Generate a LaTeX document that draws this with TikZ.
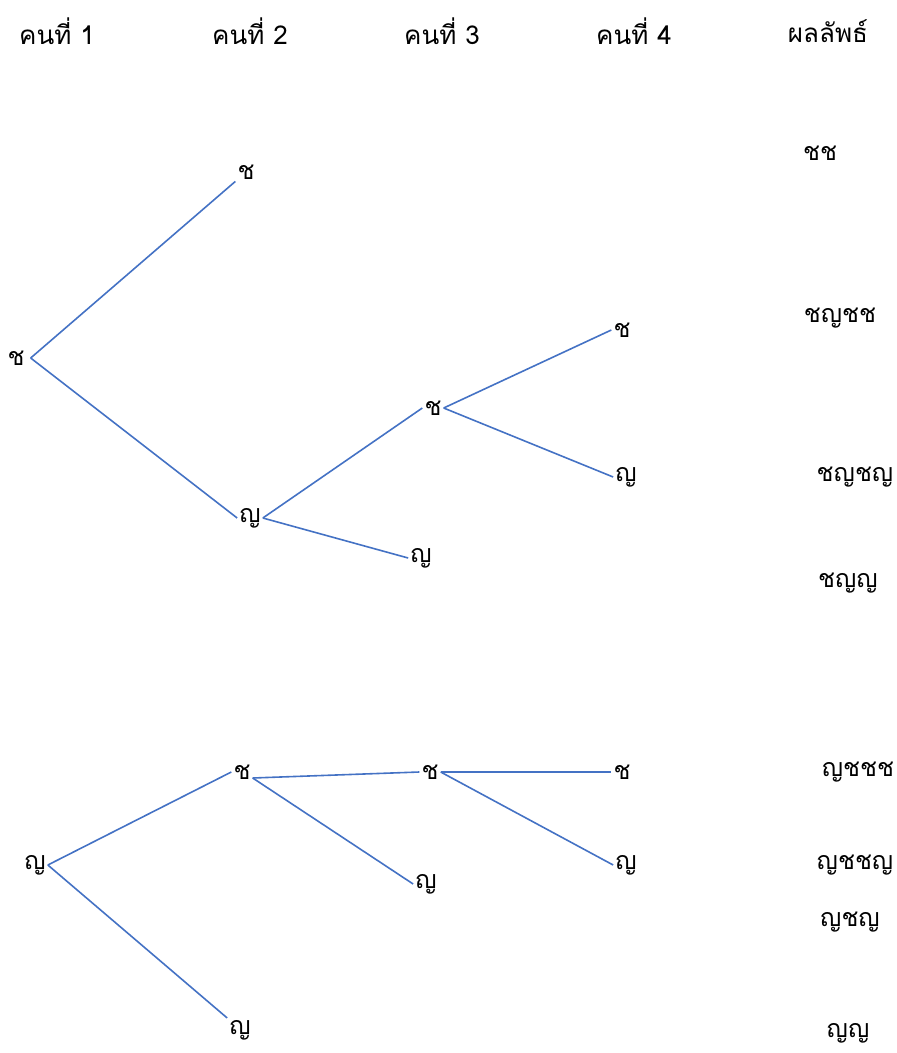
\documentclass[tikz,border=0pt]{standalone}
\usepackage{fontspec}
\newfontfamily\thaifont[Script=Thai]{Loma}
\begin{document}
\begin{tikzpicture}[x=1pt,y=-1pt,
  lbl/.style={font=\thaifont\fontsize{25}{30}\selectfont, inner sep=2pt, anchor=center},
  hdr/.style={font=\thaifont\fontsize{26}{30}\selectfont, inner sep=0pt, anchor=center},
  res/.style={font=\thaifont\fontsize{25}{30}\selectfont, inner sep=0pt, anchor=center},
  edge/.style={draw={rgb,255:red,68;green,114;blue,196}, line width=1.6pt}]
\useasboundingbox (0,0) rectangle (897,1053);
% headers
\node[hdr] (h1) at (57,31) {คนที่ 1};
\node[hdr] (h2) at (250,31) {คนที่ 2};
\node[hdr] (h3) at (442,31) {คนที่ 3};
\node[hdr] (h4) at (634,31) {คนที่ 4};
\node[hdr] (h5) at (828,31) {ผลลัพธ์};
% top tree
\node[lbl] (a) at (16,358) {ช};
\node[lbl] (ab) at (246,172) {ช};
\node[lbl] (ag) at (250,518) {ญ};
\node[lbl] (agb) at (433,408) {ช};
\node[lbl] (agg) at (421,558) {ญ};
\node[lbl] (agbb) at (622,330) {ช};
\node[lbl] (agbg) at (626,477) {ญ};
% bottom tree
\node[lbl] (g) at (35,865) {ญ};
\node[lbl] (gb) at (242,772) {ช};
\node[lbl] (gg) at (240,1030) {ญ};
\node[lbl] (gbb) at (430,772) {ช};
\node[lbl] (gbg) at (426,884) {ญ};
\node[lbl] (gbbb) at (622,772) {ช};
\node[lbl] (gbbg) at (626,865) {ญ};
% results
\node[res] (r1) at (820,153) {ชช};
\node[res] (r2) at (840,318) {ชญชช};
\node[res] (r3) at (855,477) {ชญชญ};
\node[res] (r4) at (848,583) {ชญญ};
\node[res] (r5) at (858,772) {ญชชช};
\node[res] (r6) at (855,865) {ญชชญ};
\node[res] (r7) at (850,922) {ญชญ};
\node[res] (r8) at (848,1033) {ญญ};
% connectors
\draw[edge] ([xshift=4pt]a.east) -- (ab.south west);
\draw[edge] ([xshift=4pt]a.east) -- (ag.west);
\draw[edge] (ag.east) -- (agb.west);
\draw[edge] (ag.east) -- (agg.west);
\draw[edge] (agb.east) -- (agbb.west);
\draw[edge] (agb.east) -- (agbg.west);
\draw[edge] (g.east) -- (gb.west);
\draw[edge] (g.east) -- (gg.north west);
\draw[edge] ([yshift=-6pt]gb.east) -- (gbb.west);
\draw[edge] ([yshift=-6pt]gb.east) -- (gbg.west);
\draw[edge] (gbb.east) -- (gbbb.west);
\draw[edge] (gbb.east) -- (gbbg.west);
\end{tikzpicture}
\end{document}
